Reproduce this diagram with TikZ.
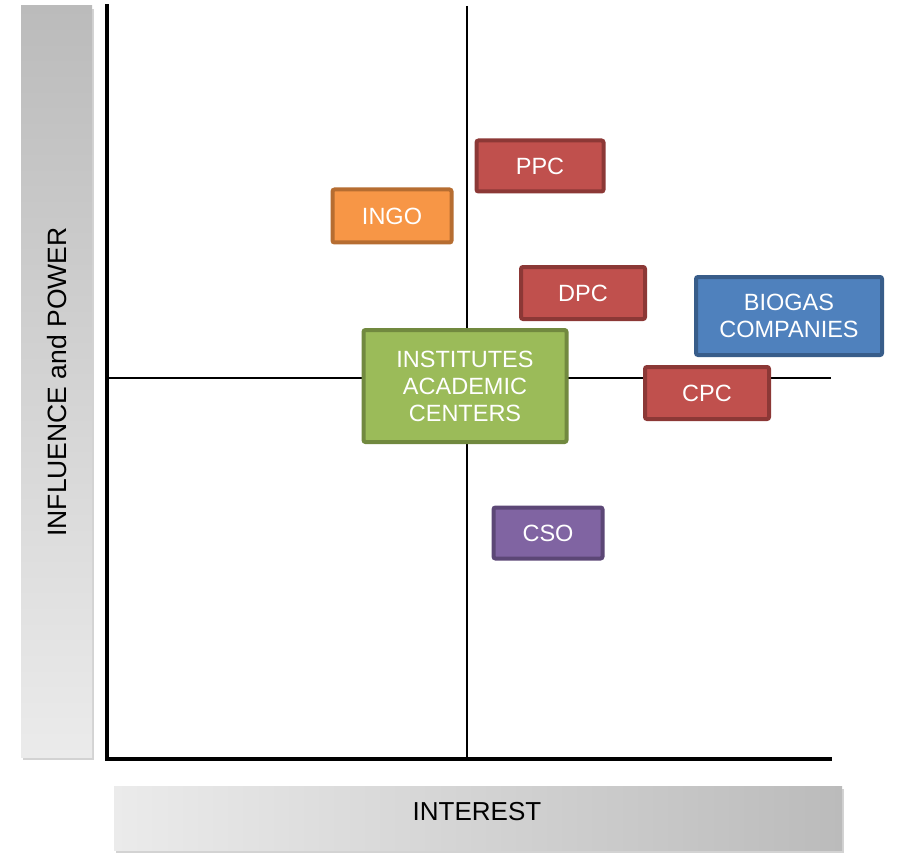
\documentclass[tikz,border=0pt]{standalone}
\usepackage{fontspec}
\setmainfont{Liberation Sans}
\usetikzlibrary{shadows}
\definecolor{redfill}{HTML}{C0504D}
\definecolor{redline}{HTML}{8C3836}
\definecolor{orafill}{HTML}{F79646}
\definecolor{oraline}{HTML}{B66D31}
\definecolor{grefill}{HTML}{9BBB59}
\definecolor{greline}{HTML}{71893F}
\definecolor{blufill}{HTML}{4F81BD}
\definecolor{bluline}{HTML}{385D8A}
\definecolor{purfill}{HTML}{8064A2}
\definecolor{purline}{HTML}{5C4776}
\definecolor{lgray}{HTML}{EBEBEB}
\definecolor{dgray}{HTML}{BBBBBB}
\begin{document}
\begin{tikzpicture}[x=1pt,y=-1pt,
  axis/.style={line width=3.5pt,line cap=rect},
  midline/.style={line width=1.5pt},
  bar/.style={draw=none,inner sep=0pt,drop shadow={shadow xshift=2pt,shadow yshift=-3pt,opacity=0.35}},
  lbl/.style={font=\fontsize{26.5}{30}\selectfont,text=black},
  box/.style={draw,line width=4pt,rounded corners=2pt,text=white,align=center,inner sep=0pt,
    font=\fontsize{23.5}{27}\selectfont},
  redbox/.style={box,fill=redfill,draw=redline},
]
\useasboundingbox (0,0) rectangle (897,853);
% gray bars
\node[bar,minimum width=71pt,minimum height=751pt,top color=dgray,bottom color=lgray] (lbar) at (56.5,381.5) {};
\node[bar,minimum width=728pt,minimum height=64pt,left color=lgray,right color=dgray] (bbar) at (478,818) {};
\node[lbl,rotate=90] (ylab) at (57,382) {INFLUENCE and POWER};
\node[lbl,font=\fontsize{26}{30}\selectfont] (xlab) at (477,812) {INTEREST};
% axes
\coordinate (o) at (107,759);
\coordinate (ytop) at (107,6);
\coordinate (xend) at (830,759);
\coordinate (vtop) at (467,6);
\coordinate (vbot) at (467,758);
\coordinate (hl) at (107,378);
\coordinate (hr) at (831,378);
\draw[midline] (vtop) -- (vbot);
\draw[midline] (hl) -- (hr);
\draw[axis] (ytop) -- (o) -- (xend);
% boxes
\node[redbox,minimum width=127pt,minimum height=51pt] (ppc) at (540,166) {PPC};
\node[box,fill=orafill,draw=oraline,minimum width=119pt,minimum height=53pt] (ingo) at (392,216) {INGO};
\node[redbox,minimum width=124pt,minimum height=52pt] (dpc) at (583,293) {DPC};
\node[box,fill=blufill,draw=bluline,minimum width=186pt,minimum height=78pt] (biogas) at (789,316) {BIOGAS\\COMPANIES};
\node[box,fill=grefill,draw=greline,minimum width=203pt,minimum height=112pt] (inst) at (465,386) {INSTITUTES\\ACADEMIC\\CENTERS};
\node[redbox,minimum width=124pt,minimum height=52pt] (cpc) at (707,393) {CPC};
\node[box,fill=purfill,draw=purline,minimum width=109pt,minimum height=51pt] (cso) at (548,533) {CSO};
\end{tikzpicture}
\end{document}
